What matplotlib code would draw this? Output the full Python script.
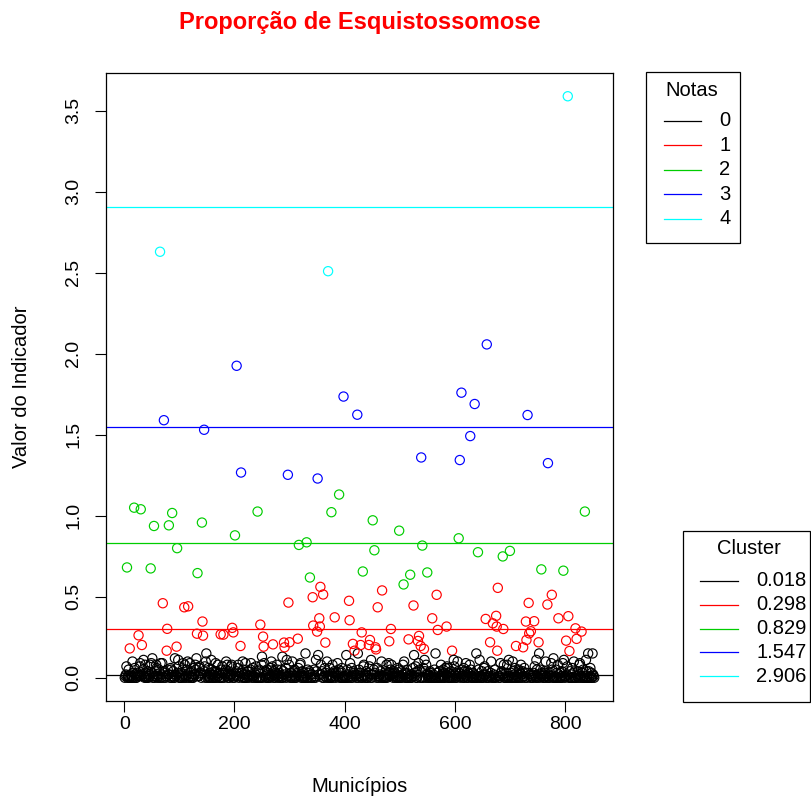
import matplotlib
matplotlib.use("Agg")
import matplotlib.pyplot as plt
from matplotlib.patches import Rectangle
from matplotlib.lines import Line2D
import numpy as np

plt.rcParams['font.family'] = ['Liberation Sans', 'DejaVu Sans']

# Indicator value of each municipality, in hundredths (one hex digit each,
# 50 municipalities per row); higher values are listed separately below.
linhas_base = [
    "0127301504 0210a30062 0013201794 1025b10830 0140218193",
    "c012041860 2150390291 0a43018052 1206507140 0c21053b70",
    "0230159048 1052a20193 0410062285 c031167230 3014070af2",
    "0160302b50 2041094028 1300250731 0235a18042 0127830410",
    "0240168031 0130a52009 2014401159 2061103270 014050208d",
    "0319140250 302106a170 0420318502 130150d041 0260b10380",
    "0310a20450 1023060189 02401300f1 1050347200 2070510b49",
    "0e20158240 3016030a10 0260021803 4010239150 0340600b10",
    "01e0520319 0160a43021 020f051300 2037810240 1030750b20",
    "0257310063 101240a310 1020480239 0150823014 3021060590",
    "0140280a30 2035081040 20160e3170 0429150310 1060b40820",
    "01204301a0 2050f01390 0410820150 3062170630 0240510b72",
    "0301a40320 1052060419 2040318250 01302800f0 1050b10140",
    "0267210304 10143a0160 2050910310 1093420280 0130810b10",
    "0300a40260 1012054038 2041160390 0130920410 2030710b50",
    "10f0520310 2043a01070 20319450c0 0150308620 3014092b10",
    "1027350140 02603a0060 0140289013 3050120b40 0f4016030f",
    "210",
]

# (municipality, value) for the higher values
vermelhos = [(10, 0.181), (26, 0.262), (32, 0.202), (70, 0.46), (77, 0.167), (78, 0.302),
             (95, 0.192), (109, 0.435), (116, 0.441), (132, 0.272), (142, 0.347), (143, 0.26),
             (175, 0.268), (180, 0.266), (196, 0.308), (198, 0.28), (211, 0.196), (247, 0.328),
             (252, 0.254), (253, 0.192), (270, 0.206), (290, 0.217), (291, 0.188), (298, 0.464),
             (300, 0.219), (315, 0.241), (342, 0.497), (343, 0.322), (350, 0.285), (354, 0.367),
             (355, 0.316), (356, 0.561), (361, 0.514), (365, 0.217), (382, 0.373), (408, 0.475),
             (409, 0.355), (415, 0.209), (418, 0.167), (429, 0.202), (431, 0.28), (444, 0.202),
             (446, 0.233), (456, 0.188), (457, 0.175), (460, 0.435), (468, 0.539), (481, 0.225),
             (484, 0.301), (516, 0.237), (525, 0.446), (533, 0.227), (535, 0.258), (538, 0.196),
             (544, 0.178), (559, 0.367), (567, 0.512), (569, 0.295), (585, 0.316), (595, 0.167),
             (656, 0.363), (664, 0.219), (669, 0.336), (675, 0.382), (676, 0.316), (677, 0.167),
             (678, 0.555), (688, 0.301), (711, 0.196), (724, 0.188), (729, 0.347), (730, 0.233),
             (734, 0.462), (735, 0.274), (738, 0.287), (744, 0.349), (752, 0.219), (768, 0.452),
             (776, 0.512), (788, 0.367), (802, 0.229), (806, 0.38), (808, 0.165), (819, 0.305),
             (821, 0.24), (830, 0.285)]
verdes = [(5, 0.681), (18, 1.05), (30, 1.04), (48, 0.675), (54, 0.937), (81, 0.941),
          (87, 1.017), (96, 0.80), (133, 0.646), (141, 0.958), (201, 0.879), (242, 1.026),
          (317, 0.82), (331, 0.836), (337, 0.619), (376, 1.022), (390, 1.131), (433, 0.656),
          (451, 0.972), (454, 0.787), (499, 0.908), (507, 0.576), (519, 0.636), (541, 0.816),
          (550, 0.65), (607, 0.861), (642, 0.775), (687, 0.749), (700, 0.783), (757, 0.669),
          (797, 0.661), (836, 1.026)]
azuis = [(72, 1.59), (145, 1.531), (204, 1.926), (212, 1.267), (297, 1.253), (351, 1.23),
         (398, 1.736), (423, 1.624), (539, 1.36), (609, 1.344), (612, 1.76), (628, 1.492),
         (636, 1.69), (658, 2.058), (732, 1.622), (769, 1.325)]
cianos = [(65, 2.63), (370, 2.51), (805, 3.59)]

centros = [0.018, 0.298, 0.829, 1.547, 2.906]
notas = ["0", "1", "2", "3", "4"]
cores = ["black", "red", "#00CD00", "blue", "cyan"]

valores = np.array([int(c, 16) / 100.0
                    for c in "".join(linhas_base).replace(" ", "")])
assert len(valores) == 853
for grupo in (vermelhos, verdes, azuis, cianos):
    for mun, v in grupo:
        valores[mun - 1] = v

municipios = np.arange(1, len(valores) + 1)
classe = np.argmin(np.abs(valores[:, None] - np.array(centros)[None, :]), axis=1)
cor_pontos = [cores[k] for k in classe]

W, H = 811, 801
fig = plt.figure(figsize=(W / 100, H / 100), dpi=100)
fx = lambda px: px / W
fy = lambda py: 1 - py / H

ax = fig.add_axes([fx(106), fy(701), fx(613) - fx(106), fy(73) - fy(701)])
ax.scatter(municipios, valores, s=44, facecolors='none', edgecolors=cor_pontos,
           linewidths=0.85)
for c, cor in zip(centros, cores):
    ax.axhline(c, color=cor, lw=0.9)

n = len(valores)
dx = 0.04 * (n - 1)
ax.set_xlim(1 - dx, n + dx)
ymax = valores.max()
ax.set_ylim(-0.04 * ymax, ymax * 1.04)

ax.set_xticks([0, 200, 400, 600, 800])
ax.set_yticks(np.arange(0, 3.51, 0.5))
ax.set_yticklabels([f"{t:.1f}" for t in np.arange(0, 3.51, 0.5)], rotation=90, va='center')
ax.tick_params(direction='out', length=8, width=0.8, labelsize=14, colors='black')
ax.tick_params(axis='x', pad=3)
ax.tick_params(axis='y', pad=9)
for s in ax.spines.values():
    s.set_linewidth(0.9)

fig.text(fx(359.5), fy(22), "Proporção de Esquistossomose", ha='center', va='center',
         color='red', fontweight='bold', fontsize=17)
fig.text(fx(359.5), fy(787), "Municípios", ha='center', va='center', fontsize=14.5)
fig.text(fx(22), fy(387), "Valor do Indicador", ha='center', va='center', rotation=90,
         fontsize=14.5)


def caixa_legenda(x0, y0, x1, y1, titulo, tx_titulo, ty, lx0, lx1, rows_y, rotulos, tx, ha):
    fig.patches.append(Rectangle((fx(x0), fy(y1)), fx(x1) - fx(x0), fy(y0) - fy(y1),
                                 transform=fig.transFigure, fill=False,
                                 edgecolor='black', lw=0.9))
    fig.text(fx(tx_titulo), fy(ty), titulo, ha='center', va='center', fontsize=14.5)
    for yy, rot, cor in zip(rows_y, rotulos, cores):
        fig.lines.append(Line2D([fx(lx0), fx(lx1)], [fy(yy), fy(yy)],
                                transform=fig.transFigure, color=cor, lw=0.9))
        fig.text(fx(tx), fy(yy), rot, ha=ha, va='center', fontsize=14.5)


caixa_legenda(645.7, 72.3, 740, 242.7, "Notas", 692, 91, 664, 701,
              [121 + 24.4 * i for i in range(5)], notas, 725, 'center')
caixa_legenda(682.7, 531, 810, 701.7, "Cluster", 749, 549, 700, 738,
              [581 + 23.75 * i for i in range(5)], [f"{c:.3f}" for c in centros], 756, 'left')

fig.savefig("out.png", dpi=100)
